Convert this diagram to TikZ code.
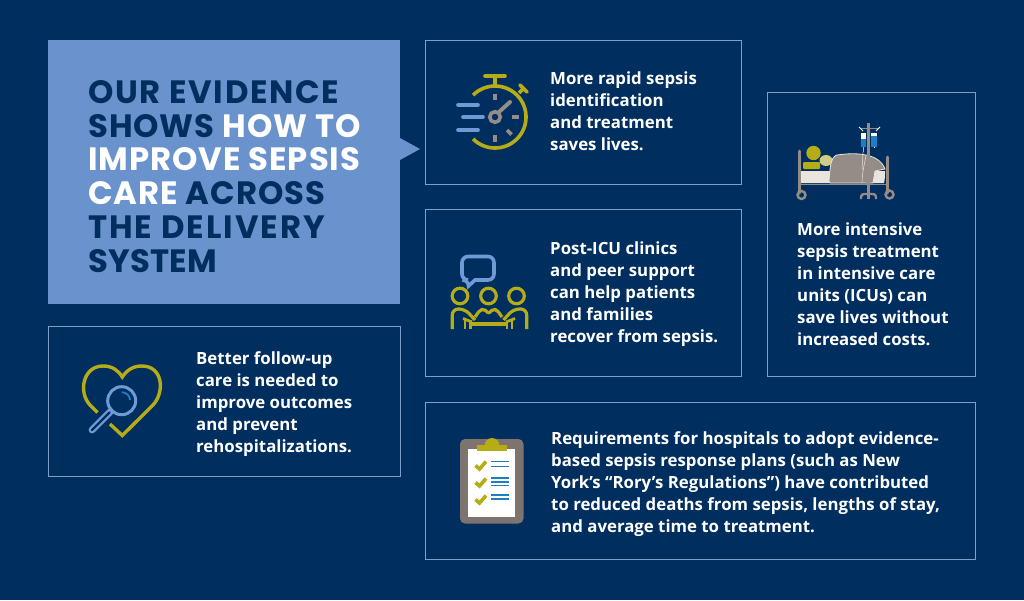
\documentclass[tikz,border=0pt]{standalone}
\usepackage{fontspec}
\setmainfont{Open Sans}
\newfontfamily\headfont[LetterSpace=3]{Poppins}
\newcommand{\tracked}[2]{{\addfontfeature{LetterSpace=#1}#2}}
\definecolor{navy}{HTML}{002E5F}
\definecolor{panel}{HTML}{6A93CE}
\definecolor{edge}{HTML}{7F9FCB}
\definecolor{gold}{HTML}{B5AC18}
\definecolor{sky}{HTML}{6F9AD6}
\definecolor{stone}{HTML}{958C87}
\definecolor{board}{HTML}{7D7470}
\definecolor{sheet}{HTML}{E9E5DE}
\definecolor{iv}{HTML}{1C7FC4}
\tikzset{
  box/.style={draw=edge,line width=0.9pt},
  body/.style={anchor=north west,inner sep=0pt,align=left,text=white,font=\fontsize{16.8}{22}\selectfont\bfseries},
  head/.style={anchor=north west,inner sep=0pt,align=left,text=navy,font=\headfont\fontsize{32.3}{33.8}\selectfont\bfseries},
  au/.style={draw=gold,line width=3.6pt},
  bl/.style={draw=sky,line width=3.6pt},
  gr/.style={draw=stone,line width=3.6pt},
  folk/.style={draw=gold,line width=3.2pt},
}
\begin{document}
\begin{tikzpicture}[x=1pt,y=-1pt,line cap=butt]
\useasboundingbox (0,0) rectangle (1024,600);
\fill[navy] (0,0) rectangle (1024,600);
% panels
\fill[panel] (48,40) rectangle (400,304);
\fill[panel] (400,138) -- (420,149) -- (400,160) -- cycle;
\draw[box] (425,40) rectangle (741,184);
\draw[box] (425,209) rectangle (741,376);
\draw[box] (767,92) rectangle (975,376);
\draw[box] (425,402) rectangle (975,559);
\draw[box] (48,326) rectangle (400,476);
% texts
\node[head] (title) at (88,80) {\tracked{5.3}{OUR EVIDENCE}\\SHOWS \textcolor{white}{HOW TO}\\\textcolor{white}{IMPROVE SEPSIS}\\\textcolor{white}{CARE} ACROSS\\\tracked{6.3}{THE DELIVERY}\\\tracked{1}{SYSTEM}};
\node[body] (t1) at (550,72) {More rapid sepsis\\identification\\and treatment\\saves lives.};
\node[body] (t2) at (550,242) {Post-ICU clinics\\and peer support\\can help patients\\and families\\recover from sepsis.};
\node[body] (t3) at (797,223) {More intensive\\sepsis treatment\\in intensive care\\units (ICUs) can\\save lives without\\increased costs.};
\node[body] (t4) at (551,431) {Requirements for hospitals to adopt evidence-\\based sepsis response plans (such as New\\York’s “Rory’s Regulations”) have contributed\\to reduced deaths from sepsis, lengths of stay,\\and average time to treatment.};
\node[body] (t5) at (196,351) {Better follow-up\\care is needed to\\improve outcomes\\and prevent\\rehospitalizations.};
% stopwatch
\draw[au] (473.1,95.1) arc (-135:135:31);
\draw[au,line cap=round] (485,76) -- (505,76);
\draw[au] (495,76) -- (495,86);
\draw[au,line cap=round] (520,85) -- (527,92);
\draw[au] (523.5,88.5) -- (519,93);
\draw[bl,line cap=round] (458,105) -- (478,105);
\draw[bl,line cap=round] (463,117) -- (483,117);
\draw[bl,line cap=round] (458,130) -- (478,130);
\draw[gr] (495,93.5) -- (495,100);
\draw[gr] (512,117) -- (518.5,117);
\draw[gr] (495,135) -- (495,141.5);
\draw[gr] (507,130) -- (511.5,134.5);
\draw[gr,line width=4pt,line cap=round] (499,112) -- (510,102);
\draw[gr,line width=3.6pt] (495,117) circle (5.3);
% group
\draw[bl] (475,280) [rounded corners=6pt] -- (494,280) -- (494,256.5) -- (462,256.5) -- (462,280) -- (468.5,280) [sharp corners] -- (468.5,286) -- cycle;
\foreach \cx in {460,488.5,516.5} \draw[folk] (\cx,296) circle (7.8);
\draw[folk,rounded corners=6pt] (452.3,329) -- (452.3,309) -- (465,309) -- (475,320);
\draw[folk,rounded corners=6pt] (526.7,329) -- (526.7,309) -- (513.5,309) -- (503.5,320);
\draw[folk,rounded corners=2pt] (475,317) -- (480,310) -- (484,309) -- (488.7,313.5) -- (493,309) -- (497,310) -- (502,317);
\draw[gold,line width=4.4pt] (471,324) -- (507,324);
\draw[gold,line width=2.8pt] (463,318.5) -- (472,322);
\draw[gold,line width=2.8pt] (515,318.5) -- (506,322);
\draw[gold,line width=2.6pt] (465,319) -- (465,329);
\draw[gold,line width=2.6pt] (470.7,322) -- (470.7,329);
\draw[gold,line width=2.6pt] (512,319) -- (512,329);
\draw[gold,line width=2.6pt] (506.8,322) -- (506.8,329);
% bed
\fill[sheet] (801,171) -- (885,171) .. controls (885,175) and (885,179) .. (884,183) -- (801,183) -- cycle;
\fill[gold!45!sheet] (826,160.5) ellipse (6.5 and 5.5);
\fill[gold] (813.5,153) circle (7.2);
\fill[gold,rounded corners=1pt] (803,162) rectangle (820,169);
\fill[stone,draw=sheet,line width=0.8pt] (829,181) .. controls (830,170) and (830,157) .. (837,155) .. controls (850,153) and (865,153) .. (875,158) .. controls (881,161) and (884,166) .. (885,169) -- (875,171) -- (873,183) -- (830,183) -- cycle;
\draw[sheet,line width=0.5pt] (866,156) .. controls (864,165) and (862,175) .. (862,183);
\draw[stone,line width=3pt,line cap=round] (799,151) -- (799,193);
\draw[stone,line width=3pt,line cap=round] (887,157) -- (887,193);
\draw[stone,line width=2.4pt] (801.5,195) circle (4);
\draw[stone,line width=2.4pt] (889.5,194.5) circle (4);
\draw[stone,line width=1.6pt] (798,184.5) -- (888,184.5);
\draw[stone,line width=3pt] (868.5,123) -- (868.5,199);
\draw[stone,line width=2.4pt,rounded corners=3pt] (861,199) -- (861,194) -- (876,194) -- (876,199);
\draw[stone,line width=1pt] (860,128) -- (879,128);
\draw[white,line width=0.8pt] (859,127) -- (863,131) (880,127) -- (876,131);
\fill[white] (860.5,133) rectangle (866,147);
\fill[iv] (860.5,139) rectangle (866,147);
\fill[white] (871,133) rectangle (877,147);
\fill[iv] (871,136) rectangle (877,147);
\draw[stone!70!white,line width=1pt] (863,147) -- (863,152);
\draw[sheet,line width=0.5pt] (863,152) -- (862,170);
\draw[white,line width=1pt] (874,147) -- (874,148);
% heart
\draw[au,line width=3.4pt,line cap=butt] (97.5,412.5) -- (90,405) .. controls (78,392) and (83,366) .. (103,366) .. controls (112,366) and (118,370) .. (122.3,377) .. controls (127,370) and (133,366) .. (142,366) .. controls (163,366) and (165,392) .. (153,405) -- (122.3,435.5) -- (110,424);
\draw[sky,line width=3pt] (121.7,400.7) circle (14);
\draw[sky,line width=6.8pt,line cap=round] (110.5,411.5) -- (92,430);
\draw[navy,line width=2.4pt,line cap=round] (109.5,412.5) -- (92,430);
\draw[iv,line width=1.8pt] (121.7,392.2) arc (-90:-5:8.5);
% clipboard
\fill[board,rounded corners=5pt] (460,439) rectangle (523.5,523.5);
\fill[white] (468,449) rectangle (515,516.5);
\fill[gold] (477,445) rectangle (507,451);
\fill[gold] (484.5,445.5) arc (180:360:7.5) -- cycle;
\foreach \dy in {0,17,34} {
  \draw[gold,line width=3.6pt] (475.5,{465.5+\dy}) -- (479.5,{469+\dy}) -- (486,{461.5+\dy});
}
\foreach \yy in {461.7,466.3,478,481.8,485.7,495,499} \draw[iv,line width=1.5pt] (491,\yy) -- (508.5,\yy);
\end{tikzpicture}
\end{document}
